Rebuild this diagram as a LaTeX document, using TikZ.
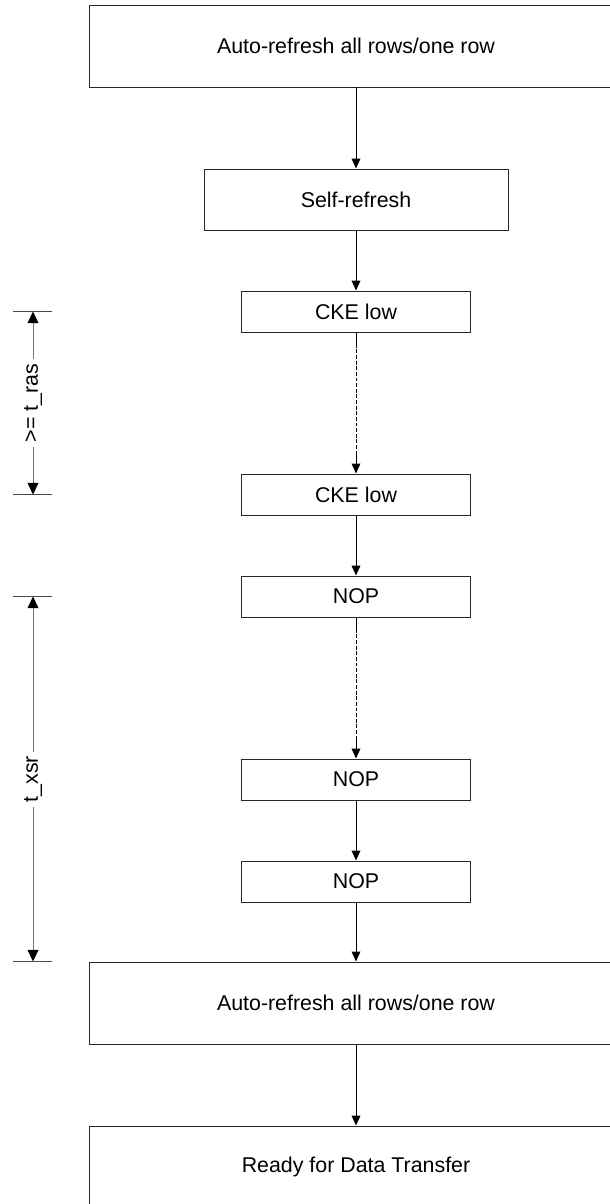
\documentclass[tikz,border=0pt]{standalone}
\usepackage{fontspec}
\setmainfont{Liberation Sans}
\usetikzlibrary{arrows.meta, positioning}
\tikzset{
  bigstep/.style={
    rectangle, minimum width=13.35cm, minimum height=2.05cm,
    text centered, draw=black!85, fill=white, line width=0.7pt
  },
  midstep/.style={
    rectangle, minimum width=7.6cm, minimum height=1.525cm,
    text centered, draw=black!85, fill=white, line width=0.7pt
  },
  smallstep/.style={
    rectangle, minimum width=5.725cm, minimum height=1.025cm,
    text centered, draw=black!85, fill=white, line width=0.7pt
  },
  flow/.style={
    -{Triangle[length=0.25cm,width=0.22cm]}, line width=0.7pt, color=black
  },
  gap/.style={
    line width=0.7pt, color=black, dash pattern=on 2.8pt off 1.2pt
  },
  dimarrow/.style={
    -{Triangle[length=0.29cm,width=0.27cm,color=black]}, line width=0.7pt, color=black!55
  },
  dimtick/.style={
    line width=0.7pt, color=black!70
  },
  dimlabel/.style={
    rotate=90, inner sep=3pt
  }
}

\begin{document}
\begin{tikzpicture}[every node/.style={font=\fontsize{15.2pt}{18pt}\selectfont}]
      \clip (0,0) rectangle (15.25,-30.1);

      % Refresh sequence
      \node[bigstep] (autoA) at (8.9,-1.15) {Auto-refresh all rows/one row};
      \node[midstep] (self) at (8.9,-4.9875) {Self-refresh};
      \node[smallstep] (ckeA) at (8.9,-7.7875) {CKE low};
      \node[smallstep] (ckeB) at (8.9,-12.3625) {CKE low};
      \node[smallstep] (nopA) at (8.9,-14.9125) {NOP};
      \node[smallstep] (nopB) at (8.9,-19.4875) {NOP};
      \node[smallstep] (nopC) at (8.9,-22.0375) {NOP};
      \node[bigstep] (autoB) at (8.9,-25.075) {Auto-refresh all rows/one row};
      \node[bigstep] (ready) at (8.9,-29.175) {Ready for Data Transfer};

      % Solid steps
      \draw[flow] (autoA) -- (self);
      \draw[flow] (self) -- (ckeA);
      \draw[flow] (ckeB) -- (nopA);
      \draw[flow] (nopB) -- (nopC);
      \draw[flow] (nopC) -- (autoB);
      \draw[flow] (autoB) -- (ready);

      % Repeated steps (broken line)
      \path (ckeA.south) -- (ckeB.north) coordinate[pos=0.08] (ckeAa) coordinate[pos=0.85] (ckeAb);
      \draw[line width=0.7pt] (ckeA.south) -- (ckeAa);
      \draw[gap] (ckeAa) -- (ckeAb);
      \draw[flow] (ckeAb) -- (ckeB.north);

      \path (nopA.south) -- (nopB.north) coordinate[pos=0.08] (nopAa) coordinate[pos=0.85] (nopAb);
      \draw[line width=0.7pt] (nopA.south) -- (nopAa);
      \draw[gap] (nopAa) -- (nopAb);
      \draw[flow] (nopAb) -- (nopB.north);

      % Timing t_ras
      \coordinate (dimx) at (0.825,0);
      \coordinate (rastop) at (dimx |- ckeA);
      \coordinate (rasbot) at (dimx |- ckeB);
      \draw[dimtick] ([xshift=-0.5cm]rastop) -- ([xshift=0.475cm]rastop);
      \draw[dimtick] ([xshift=-0.5cm]rasbot) -- ([xshift=0.475cm]rasbot);
      \node[dimlabel] (ras) at (0.825,-10.075) {>= t\_ras};
      \draw[dimarrow] (ras) -- (rastop);
      \draw[dimarrow] (ras) -- (rasbot);

      % Timing t_xsr
      \coordinate (xsrtop) at (dimx |- nopA);
      \coordinate (xsrbot) at (dimx |- autoB.north);
      \draw[dimtick] ([xshift=-0.5cm]xsrtop) -- ([xshift=0.475cm]xsrtop);
      \draw[dimtick] ([xshift=-0.5cm]xsrbot) -- ([xshift=0.475cm]xsrbot);
      \node[dimlabel] (xsr) at (0.825,-19.48) {t\_xsr};
      \draw[dimarrow] (xsr) -- (xsrtop);
      \draw[dimarrow] (xsr) -- (xsrbot);
    \end{tikzpicture}
\end{document}
